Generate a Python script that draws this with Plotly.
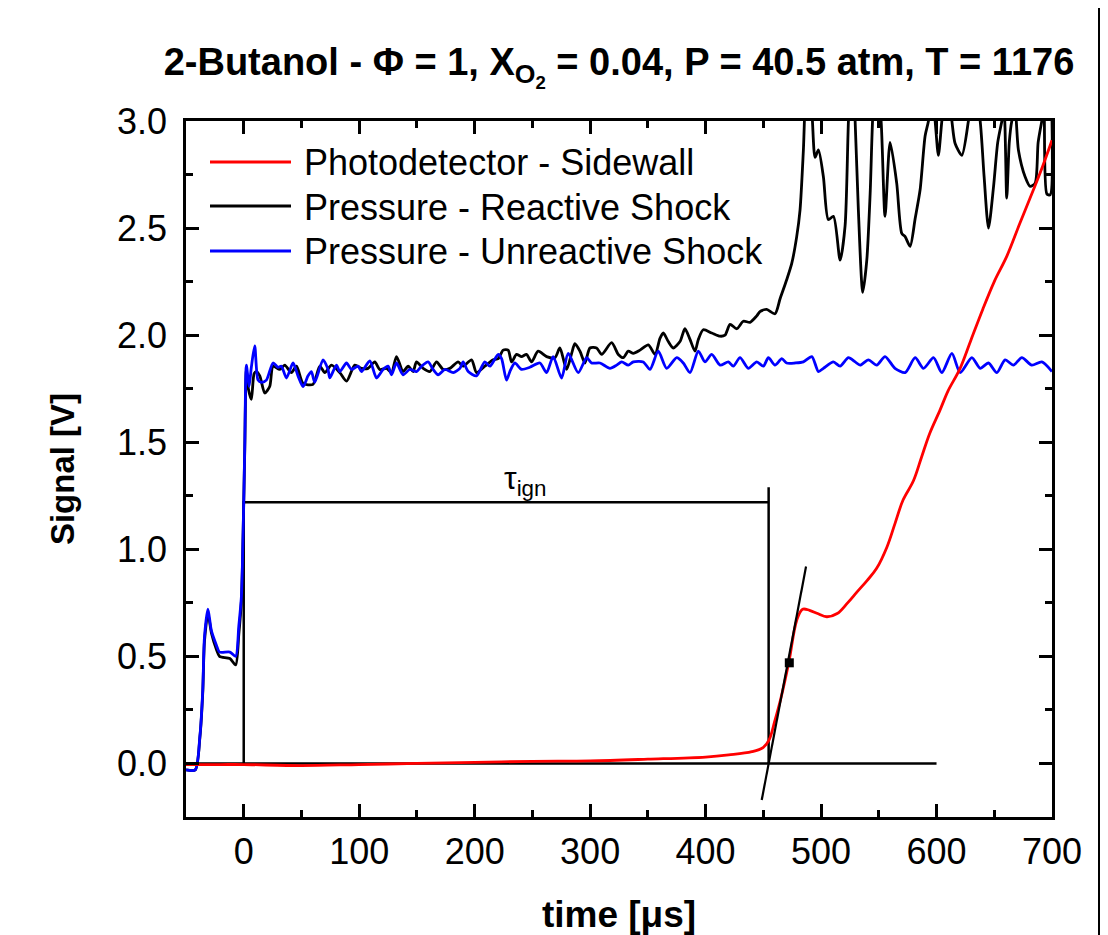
import plotly.graph_objects as go

# ---------------- data ----------------
t_blue = [-50, -42, -38, -35.5, -34, -31, -28, -23.5, -21, -12, -7, -4.3, -2, -0.5, 0.9, 2.3, 4.6, 6.6,
          9.5, 12.4, 15.3, 19.6, 25.4, 29.7, 32.6, 37, 42.7, 47, 51.4, 55.7, 58.6, 61.5, 68.7, 73, 74.5,
          80.3, 83.2, 89, 93.3, 99, 102, 109.2, 115, 120.7, 125, 128, 132.3, 138, 143.8, 149.6, 154,
          159.7, 164, 168.4, 174.2, 181.4, 187.2, 190, 194.4, 201.6, 208.8, 213.2, 220.4, 223.3, 227.6,
          230.5, 234.8, 240.6, 247.8, 256.5, 262.3, 268, 275.3, 281, 289.7, 297, 301.2, 308.5, 317.2,
          323, 327.3, 333, 337.4, 346, 351.8, 359, 366.3, 375, 380.7, 386.5, 393.7, 399.5, 405.3, 412.5,
          419.7, 424, 429.8, 437, 444.3, 450, 454.4, 460.1, 466, 470.2, 477.5, 484.7, 492, 497.7, 502,
          510.7, 516.5, 523.7, 529.5, 533.8, 541, 548.2, 555.4, 564, 572.8, 581.5, 588.7, 597.4, 604.6,
          613.3, 620.5, 630.6, 637.8, 645, 652.2, 659.4, 666.6, 673.9, 682.5, 691.2, 700]
v_blue = [-0.03, -0.03, 0.125, 0.34, 0.59, 0.72, 0.62, 0.55, 0.52, 0.52, 0.50, 0.64, 0.78, 1.09, 1.48, 1.86, 1.76, 1.85,
          1.95, 1.79, 1.78, 1.79, 1.87, 1.85, 1.855, 1.80, 1.87, 1.81, 1.76, 1.81, 1.83, 1.78, 1.885, 1.84, 1.80,
          1.86, 1.83, 1.87, 1.84, 1.855, 1.83, 1.88, 1.80, 1.84, 1.855, 1.815, 1.87, 1.815, 1.84, 1.83, 1.855,
          1.875, 1.84, 1.815, 1.84, 1.825, 1.845, 1.875, 1.83, 1.81, 1.875, 1.855, 1.91, 1.89, 1.79,
          1.83, 1.87, 1.84, 1.85, 1.87, 1.825, 1.90, 1.80, 1.915, 1.825, 1.895, 1.87, 1.87, 1.845,
          1.86, 1.875, 1.86, 1.875, 1.875, 1.84, 1.925, 1.845, 1.895, 1.87, 1.825, 1.925, 1.875, 1.91, 1.86,
          1.875, 1.855, 1.895, 1.845, 1.875, 1.855, 1.895, 1.86, 1.89, 1.87, 1.87, 1.875, 1.90, 1.83, 1.845,
          1.875, 1.855, 1.895, 1.875, 1.86, 1.885, 1.86, 1.90, 1.845, 1.825, 1.895, 1.845, 1.895, 1.825,
          1.915, 1.825, 1.895, 1.845, 1.87, 1.825, 1.885, 1.86, 1.895, 1.86, 1.875, 1.83]

t_black = [-50, -42, -38, -35.5, -34, -31, -28, -23.5, -21, -12, -7, -4.3, -2, -0.5, 0.9, 2.3, 4, 6.6, 9,
           11, 13.9, 18.2, 22.5, 25.4, 31.2, 35.5, 41.3, 45.7, 51.4, 60, 65.9, 70.2, 76, 83.2, 89, 96.2,
           102, 107.7, 113.5, 117.8, 123.7, 128, 132.3, 138, 142.4, 146.7, 149.6, 155.4, 161.2, 167,
           172.7, 178.5, 185.7, 190, 197.3, 201.6, 208.8, 216, 220.4, 224.7, 229, 232, 236.2, 240.6,
           244.9, 249.2, 255, 262.3, 269.5, 273.8, 279.6, 284, 286.8, 291.2, 295.5, 299.8, 305.6, 310,
           318.6, 324.4, 328.7, 333, 337.4, 343.2, 350.4, 356.2, 360.5, 363.4, 367.7, 372, 377.8, 382.1,
           386.5, 390.8, 393.7, 398, 405.3, 412.5, 416.8, 421.2, 427, 432.7, 438.5, 444.3, 447.1, 452.9,
           460.1, 464.5, 470.3, 474.6, 478.9, 481.8, 484.7, 487.5, 491.9, 494.8, 497.7, 502, 506.3,
           510.7, 516.5, 520.8, 523.7, 526.5, 529.5, 532.3, 536.1, 539.6, 542.5, 545.5, 548.2, 552,
           555.4, 559.8, 565.5, 569.9, 572.8, 577.1, 581.5, 585.8, 590.1, 593, 596, 598.8, 601.6, 604.6,
           609, 613.3, 616.1, 621.9, 627.6, 632, 637.8, 641.2, 645, 649.4, 653, 656.6, 658.5, 660.8,
           663, 665.2, 668, 670.9, 676.7, 681.1, 685.4, 688, 691.2, 693, 695.5, 698.4, 700]
v_black = [-0.03, -0.03, 0.12, 0.33, 0.57, 0.70, 0.61, 0.53, 0.50, 0.49, 0.46, 0.60, 0.76, 1.08, 1.47, 1.84, 1.75, 1.70, 1.82,
           1.83, 1.81, 1.73, 1.76, 1.855, 1.84, 1.86, 1.825, 1.855, 1.775, 1.77, 1.855, 1.825, 1.86, 1.825, 1.785, 1.86,
           1.845, 1.845, 1.875, 1.84, 1.845, 1.825, 1.90, 1.83, 1.855, 1.83, 1.875, 1.845, 1.83, 1.875,
           1.84, 1.845, 1.875, 1.855, 1.885, 1.825, 1.855, 1.885, 1.89, 1.93, 1.93, 1.875, 1.91, 1.90,
           1.91, 1.875, 1.925, 1.90, 1.895, 1.94, 1.84, 1.915, 1.96, 1.925, 1.87, 1.94, 1.94, 1.91,
           1.965, 1.91, 1.895, 1.925, 1.915, 1.93, 1.955, 1.91, 1.985, 2.01, 1.97, 1.94, 1.97, 2.03,
           1.98, 1.925, 1.98, 2.025, 2.01, 1.995, 2.00, 2.05, 2.03, 2.065, 2.06, 2.09, 2.11, 2.12,
           2.10, 2.17, 2.26, 2.335, 2.46, 2.585, 2.865, 3.2, 3.05, 2.83, 2.865, 2.74, 2.54,
           2.555, 2.35, 2.51, 3.0, 3.3, 3.0, 2.585, 2.20, 2.35, 2.66, 3.1, 3.2, 3.0,
           2.555, 2.90, 2.71, 2.475, 2.46, 2.415, 2.545, 2.68, 2.93, 3.0, 3.15, 3.0, 2.84, 3.0,
           3.2, 3.0, 2.895, 2.84, 3.0, 3.2, 3.0, 2.74, 2.50, 2.695, 2.9, 3.0, 3.05, 2.64,
           2.9, 3.0, 3.05, 2.865, 2.74, 2.695, 2.71, 2.9, 3.0, 3.05, 2.66, 2.655, 3.0]

t_red = [-50, -20, 0, 50, 100, 150, 200, 250, 300, 350, 400, 420, 440, 450, 455, 460, 465, 472, 479, 484,
         490, 497, 505, 514, 523, 531, 540, 548, 557, 564, 571, 580, 587, 594, 603, 610, 620, 630, 640,
         650, 661, 672, 684, 692, 700]
v_red = [-0.005, -0.005, -0.005, -0.01, -0.005, 0.0, 0.005, 0.01, 0.012, 0.02, 0.03, 0.04, 0.055, 0.075, 0.11, 0.2, 0.3,
         0.47, 0.67, 0.72, 0.715, 0.70, 0.685, 0.70, 0.75, 0.80, 0.855, 0.91, 1.01, 1.12, 1.23, 1.32, 1.43, 1.54,
         1.65, 1.74, 1.84, 1.98, 2.12, 2.25, 2.37, 2.52, 2.68, 2.79, 2.91]

# ignition-delay construction
shock_time = 0
tau_ign = 454.6
bar_level = 1.22
right_bar_top = 1.29
baseline_x = [-50, 600]
baseline_y = [0, 0]
tangent_x = [448.6, 487.0]
tangent_y = [-0.171, 0.92]
max_slope_x = [472.5]
max_slope_y = [0.47]

x_ticks = [0, 100, 200, 300, 400, 500, 600, 700]
y_ticks = [0.0, 0.5, 1.0, 1.5, 2.0, 2.5, 3.0]

series_names = ["Photodetector - Sidewall", "Pressure - Reactive Shock", "Pressure - Unreactive Shock"]
series_colors = ["#ff0000", "#000000", "#0000ff"]

FONT = "Liberation Sans, Arial, sans-serif"
LW = 2.8

fig = go.Figure()

# construction lines
fig.add_trace(go.Scatter(x=baseline_x, y=baseline_y, mode="lines",
                         line=dict(color="black", width=2.5), showlegend=False, hoverinfo="skip"))
fig.add_trace(go.Scatter(x=[shock_time, shock_time, tau_ign], y=[0, bar_level, bar_level], mode="lines",
                         line=dict(color="black", width=2.5), showlegend=False, hoverinfo="skip"))
fig.add_trace(go.Scatter(x=[tau_ign, tau_ign], y=[0, right_bar_top], mode="lines",
                         line=dict(color="black", width=2.5), showlegend=False, hoverinfo="skip"))

# signals
fig.add_trace(go.Scatter(x=t_black, y=v_black, mode="lines", name=series_names[1],
                         line=dict(color=series_colors[1], width=LW, shape="spline", smoothing=0.7),
                         showlegend=False))
fig.add_trace(go.Scatter(x=t_blue, y=v_blue, mode="lines", name=series_names[2],
                         line=dict(color=series_colors[2], width=LW, shape="spline", smoothing=0.7),
                         showlegend=False))
fig.add_trace(go.Scatter(x=t_red, y=v_red, mode="lines", name=series_names[0],
                         line=dict(color=series_colors[0], width=LW, shape="spline"), showlegend=False))

# tangent and max-slope point
fig.add_trace(go.Scatter(x=tangent_x, y=tangent_y, mode="lines",
                         line=dict(color="black", width=2.2), showlegend=False, hoverinfo="skip"))
fig.add_trace(go.Scatter(x=max_slope_x, y=max_slope_y, mode="markers",
                         marker=dict(symbol="square", size=9, color="black"), showlegend=False))

# page layout in screen pixels; the page body adds an 8 px offset
OFF = 8
PAGE_W, PAGE_H = 1108, 935
W, H = PAGE_W - OFF, PAGE_H - OFF
L, R, T, B = 186 - OFF, 1052 - OFF, 121 - OFF, 817 - OFF
PW, PH = R - L, B - T

def px(xs):
    return (xs - OFF - L) / PW

def py(ys):
    return (B - (ys - OFF)) / PH

shapes = []
annotations = []
# custom legend
legend_rows = [162, 206, 251]
for name, col, ry in zip(series_names, series_colors, legend_rows):
    shapes.append(dict(type="line", xref="paper", yref="paper", x0=px(210), x1=px(291), y0=py(ry), y1=py(ry),
                       line=dict(color=col, width=LW)))
    annotations.append(dict(text=name, xref="paper", yref="paper", x=px(302), y=py(ry + 1), xanchor="left",
                            yanchor="middle", showarrow=False, font=dict(family=FONT, size=36, color="black")))

# outer page border on the right
shapes.append(dict(type="line", xref="paper", yref="paper", x0=px(1099), x1=px(1099), y0=py(PAGE_H + 5),
                   y1=py(0), line=dict(color="black", width=2)))

annotations.append(dict(text="τ<sub>ign</sub>", xref="x", yref="y", x=244, y=1.32, showarrow=False,
                        xanchor="center", yanchor="middle", font=dict(family=FONT, size=32, color="black")))

fig.update_layout(
    width=W, height=H,
    margin=dict(l=L, r=W - R, t=T, b=H - B, pad=0, autoexpand=False),
    paper_bgcolor="white", plot_bgcolor="white",
    showlegend=False,
    title=dict(text="<b>2-Butanol - Φ = 1, X<sub>O<sub>2</sub></sub> = 0.04, P = 40.5 atm, T = 1176</b>",
               x=0.5, xref="paper", xanchor="center", y=1 - (62 - OFF) / H, yref="container",
               yanchor="middle", font=dict(family=FONT, size=38, color="black")),
    shapes=shapes,
    annotations=annotations,
)

axis_common = dict(showgrid=False, zeroline=False, showline=True, linecolor="black", linewidth=2.5,
                   mirror="allticks", ticks="inside", ticklen=13, tickwidth=2.5, tickcolor="black",
                   automargin=False,
                   tickfont=dict(family=FONT, size=36, color="black"))

fig.update_xaxes(range=[-50, 700], tickvals=x_ticks, ticktext=[str(v) for v in x_ticks],
                 minor=dict(ticks="inside", ticklen=7, tickwidth=2.5, tickcolor="black", dtick=50, tick0=0),
                 title=dict(text="<b>time [μs]</b>", font=dict(family=FONT, size=37, color="black"), standoff=31),
                 ticklabelstandoff=1,
                 **axis_common)
fig.update_yaxes(range=[-0.25, 3.0], tickvals=y_ticks, ticktext=[f"{v:.1f}" for v in y_ticks],
                 minor=dict(ticks="inside", ticklen=7, tickwidth=2.5, tickcolor="black", dtick=0.25, tick0=0),
                 title=dict(text="<b>Signal [V]</b>", font=dict(family=FONT, size=33, color="black"), standoff=33),
                 ticklabelstandoff=9,
                 **axis_common)

fig.write_html("out.html")
